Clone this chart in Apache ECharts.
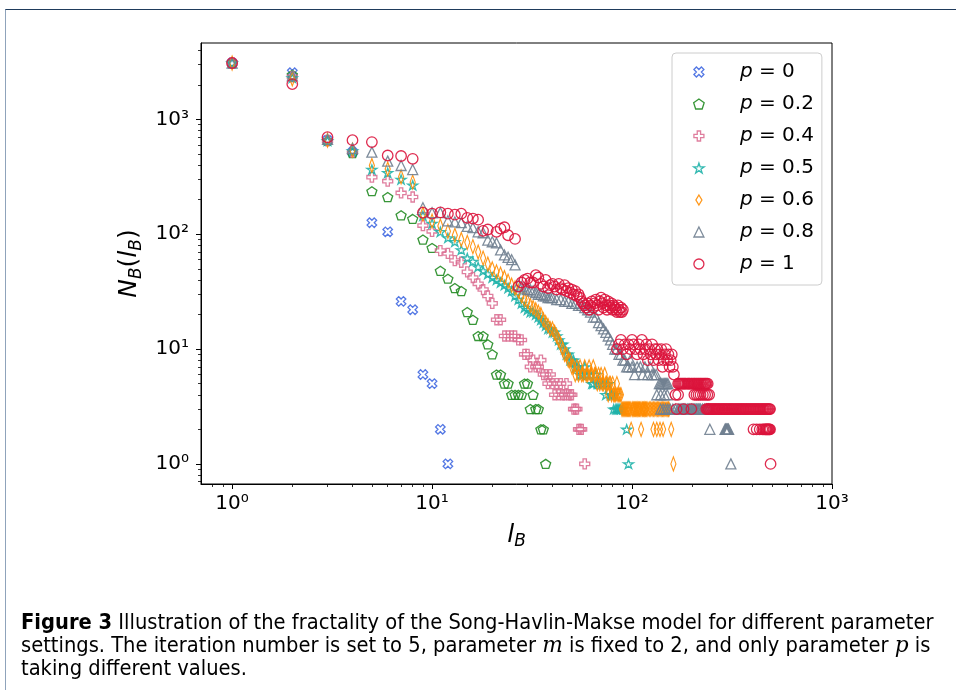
<!DOCTYPE html>
<html lang="en">
<head>
<meta charset="UTF-8">
<title>SHM fractality</title>
<style>
    *{
        padding:0;
        margin:0;
    }
    body{width:956px;height:690px;background:#fff;position:relative;overflow:hidden;}
    #frame{position:absolute;left:5px;top:9px;right:-2px;bottom:-2px;border-top:1px solid #1f3b5c;border-left:1px solid #8fa3bb;}
    #main{position:absolute;left:0;top:0;width:956px;height:690px;}
    #caption{position:absolute;left:21px;top:610px;font-family:"DejaVu Sans Condensed","Liberation Sans Narrow",sans-serif;font-size:21.7px;line-height:23px;white-space:nowrap;color:#000;}
    #caption i{font-family:"DejaVu Serif","Liberation Serif",serif;font-style:italic;}
</style>
<script src="https://cdn.jsdelivr.net/npm/echarts@6.0.0/dist/echarts.min.js"></script>
</head>
<body>
<div id="frame"></div>
<div id="main"></div>
<div id="caption"><b>Figure 3</b> Illustration of the fractality of the Song-Havlin-Makse model for different parameter<br>settings. The iteration number is set to 5, parameter <i>m</i> is fixed to 2, and only parameter <i>p</i> is<br>taking different values.</div>
<script>
    // tick values of both log axes
    var lTicks = [1, 10, 100, 1000];
    var nTicks = [1, 10, 100, 1000];
    var lMinor = [0.8, 0.9, 2, 3, 4, 5, 6, 7, 8, 9, 20, 30, 40, 50, 60, 70, 80, 90, 200, 300, 400, 500, 600, 700, 800, 900];
    var nMinor = [0.7, 0.8, 0.9, 2, 3, 4, 5, 6, 7, 8, 9, 20, 30, 40, 50, 60, 70, 80, 90, 200, 300, 400, 500, 600, 700, 800, 900, 2000, 3000, 4000];

    var names = ['p = 0', 'p = 0.2', 'p = 0.4', 'p = 0.5', 'p = 0.6', 'p = 0.8', 'p = 1'];

    // [l_B, N_B]
    var p00 = [[1,3100],[2,2550],[3,660],[4,520],[5,126],[6,105],[7,26],[8,22],[9,6],[10,5],[11,2],[12,1]];

    var p02 = [[1,3100],[2,2450],[3,650],[4,510],[5,237],[6,211],[7,146],[8,136],[9,90],[10,76],
        [11,48],[12,41],[13,34],[14,32],[15,21],[16,18],[17,13],[18,13],[19,11],[20,9],
        [21,6],[22,6],[23,5],[24,5],[25,4],[26,4],[27,4],[28,4],[29,5],[30,5],
        [31,3],[32,4],[33,3],[34,3],[35,2],[36,2],[37,1]];

    var p04 = [[1,3100],[2,2350],[3,650],[4,520],[5,314],[6,290],[7,229],[8,211],[9,119],[10,106],
        [11,72],[12,68],[13,59],[14,57],[15,47],[16,42],[17,37],[18,33],[19,29],[20,25],
        [21,18],[22,18],[23,13],[24,13],[25,13],[26,13],[27,12],[28,12],[29,9],[30,9],
        [31,7],[32,8],[33,7],[34,7],[35,8],[36,6],[37,6],[38,5],[39,6],[40,5],
        [41,4],[42,5],[43,4],[44,5],[45,4],[46,4],[47,5],[48,4],[49,4],[50,4],
        [51,3],[52,3],[53,3],[54,2],[55,2],[56,2],[58,1]];

    var p05 = [[1,3100],[2,2300],[3,650],[4,530],[5,366],[6,343],[7,300],[8,267],[9,145],[10,124],
        [11,105],[12,93],[13,86],[14,73],[15,62],[16,58],[17,52],[18,48],[19,45],[20,42],
        [21,40],[22,38],[23,36],[24,34],[25,32],[26,29],[27,27],[28,25],[29,23],[30,22],
        [31,21],[32,21],[33,20],[34,19],[35,18],[36,17],[37,16],[38,15],[39,15],[40,14],
        [41,14],[42,13],[43,12],[44,11],[45,11],[46,10],[47,9],[48,9],[49,8],[50,8],
        [51,8],[52,7],[53,7],[54,7],[55,6],[56,6],[57,6],[58,7],[59,6],[60,6],
        [62,6],[63,5],[64,5],[66,6],[67,5],[68,5],[70,5],[71,5],[72,5],[74,4],
        [75,5],[76,5],[78,4],[79,4],[80,4],[81,3],[82,4],[83,3],[84,3],[85,3],
        [86,3],[87,3],[88,3],[90,3],[94,2],[96,1]];

    var p06 = [[1,3100],[2,2250],[3,660],[4,540],[5,397],[6,370],[7,316],[8,284],[9,150],[10,130],
        [11,118],[12,106],[13,98],[14,90],[15,85],[16,78],[17,70],[18,62],[19,55],[20,50],
        [21,47],[22,45],[23,42],[24,39],[25,36],[26,34],[27,32],[28,29],[29,27],[30,26],
        [31,24],[32,23],[33,22],[34,21],[35,20],[36,18],[37,17],[38,16],[39,15],[40,15],
        [41,14],[42,13],[43,12],[44,11],[45,10],[46,9],[47,9],[48,8],[49,8],[50,7],
        [51,7],[52,6],[53,7],[54,6],[55,7],[56,6],[57,6],[58,7],[59,6],[60,6],
        [61,7],[62,6],[63,6],[64,7],[65,6],[66,6],[67,5],[68,6],[69,5],[70,6],
        [71,5],[72,5],[73,6],[74,5],[75,5],[76,4],[77,5],[78,5],[79,4],[80,5],
        [81,4],[82,4],[83,4],[84,5],[85,4],[86,4],[87,4],[88,4],
        [89,3],[90,3],[91,3],[92,3],[93,3],[94,3],[95,3],[96,3],[97,3],[98,3],
        [99,2],[100,3],[101,3],[102,3],[103,3],[104,3],[105,3],[106,3],[107,3],[108,3],
        [109,3],[110,3],[111,2],[112,3],[113,3],[114,3],[115,3],[116,3],[117,3],[118,3],
        [120,3],[122,3],[124,3],[126,3],[128,2],[128,3],[130,3],[132,3],[133,2],[134,3],
        [136,3],[138,2],[138,3],[140,3],[142,3],[143,2],[144,3],[146,3],[148,3],[150,3],
        [152,3],[153,3],[157,2],[161,1]];

    var p08 = [[1,3100],[2,2400],[3,670],[4,560],[5,519],[6,433],[7,397],[8,366],[9,170],[10,154],
        [11,154],[12,131],[13,128],[14,126],[15,117],[16,114],[17,105],[18,103],[19,89],[20,86],
        [21,84],[22,73],[23,66],[24,63],[25,60],[26,54],[27,36],[28,35],[29,34],[30,33],
        [31,33],[32,32],[33,31],[34,30],[35,30],[36,29],[37,29],[38,28],[39,28],[40,28],
        [42,27],[44,27],[46,26],[48,26],[50,25],[52,25],[54,24],[56,24],[58,23],[60,22],
        [62,21],[64,19],[66,19],[68,17],[70,16],[72,15],[74,14],[76,13],[78,12],[80,11],
        [82,10],[84,10],[86,9],[88,9],[90,8],[92,8],[94,7],[96,7],[98,8],[100,7],
        [103,6],[106,7],[110,7],[113,6],[116,7],[120,6],[123,7],[126,6],[129,6],[132,6],
        [133,4],[139,4],[145,4],[150,4],
        [137,5],[139,5],[141,5],[143,5],[145,5],[147,5],[149,5],[151,5],
        [139,3],[143,3],[147,3],[151,3],[155,3],[160,3],[165,3],[170,3],[172,3],[174,3],
        [176,3],[178,3],[180,3],[182,3],[184,3],[186,3],[189,3],[191,3],[193,3],[195,3],
        [198,3],[200,3],[203,3],[205,3],[207,3],[210,3],[212,3],[215,3],[217,3],[220,3],
        [225,3],[230,3],[235,3],[240,3],
        [245,2],[292,2],[294,2],[296,2],[298,2],[300,2],[302,2],[304,2],[312,1]];

    var p10 = [[1,3100],[2,2030],[3,700],[4,660],[5,635],[6,485],[7,480],[8,454],[9,154],[10,151],
        [11,155],[12,151],[13,148],[14,151],[15,139],[16,137],[17,134],[18,107],[19,110],[21,105],
        [22,112],[23,115],[24,98],[26,91],[27,35],[28,38],[29,40],[30,41],[31,38],[32,38],
        [33,44],[34,42],[35,37],[36,35],[37,40],[38,34],[39,36],[40,37],[41,35],[42,33],
        [43,37],[44,34],[45,33],[46,36],[47,32],[48,34],[49,31],[50,33],[51,30],[52,32],
        [53,29],[54,30],[55,28],[56,26],[57,25],[58,24],[59,23],[60,25],[61,22],[62,24],
        [63,26],[64,23],[65,25],[66,27],[67,24],[68,22],[69,26],[70,28],[71,25],[72,23],
        [73,27],[74,24],[75,22],[76,26],[77,24],[78,23],[79,25],[80,22],[81,24],[82,23],
        [83,22],[84,21],[85,24],[86,22],[87,21],[88,23],[89,21],[90,22],
        [84,10],[86,11],[88,12],[90,10],[92,11],[94,9],[96,11],[98,10],[100,12],[102,11],
        [104,10],[106,9],[108,11],[110,10],[112,12],[114,9],[116,10],[118,11],[120,8],[122,10],
        [124,9],[126,11],[128,8],[130,10],[132,9],[134,10],[136,8],[138,9],[140,10],[142,7],
        [144,8],[146,9],[148,10],[150,8],[152,9],[154,7],[156,8],[158,9],[160,7],[162,6],
        [165,4],[167,3],[170,4],[181,3],[198,3],
        [170,5],[172,5],[174,5],[176,5],[178,5],[180,5],[182,5],[184,5],[186,5],[189,5],
        [191,5],[193,5],[195,5],[198,5],[200,5],[203,5],[205,5],[207,5],[210,5],[212,5],
        [215,5],[217,5],[220,5],[222,5],[225,5],[228,5],[231,5],[233,5],[236,5],[239,5],
        [205,4],[210,4],[215,4],[220,4],[226,4],[232,4],[238,4],[243,4],
        [235,3],[238,3],[241,3],[243,3],[246,3],[249,3],[252,3],[255,3],[258,3],[261,3],
        [264,3],[267,3],[270,3],[273,3],[276,3],[280,3],[283,3],[286,3],[290,3],[293,3],
        [297,3],[300,3],[304,3],[307,3],[311,3],[315,3],[318,3],[322,3],[326,3],[330,3],
        [334,3],[338,3],[342,3],[346,3],[350,3],[354,3],[358,3],[362,3],[367,3],[371,3],
        [375,3],[380,3],[384,3],[389,3],[393,3],[398,3],[403,3],[407,3],[412,3],[417,3],
        [422,3],[427,3],[432,3],[437,3],[442,3],[448,3],[453,3],[458,3],[464,3],[469,3],
        [475,3],[480,3],[486,3],[490,3],
        [405,2],[420,2],[435,2],[448,2],[455,2],[462,2],[466,2],[470,2],[474,2],[478,2],
        [482,2],[486,2],[490,2],[493,1]];

    var seriesData = [p00, p02, p04, p05, p06, p08, p10];
    var colors = ['#4169E1', '#228B22', '#DB7093', '#20B2AA', '#FF8C00', '#708090', '#DC143C'];

    var symX = 'path://M42.4,0L56.6,14.1L42.4,28.3L56.6,42.4L42.4,56.6L28.3,42.4L14.1,56.6L0,42.4L14.1,28.3L0,14.1L14.1,0L28.3,14.1Z';
    var symPent = 'path://M50,0L97.6,34.5L79.4,90.5L20.6,90.5L2.4,34.5Z';
    var symPlus = 'path://M2,0L4,0L4,2L6,2L6,4L4,4L4,6L2,6L2,4L0,4L0,2L2,2Z';
    var symStar = 'path://M50,0L61.2,34.5L97.6,34.5L68.2,55.9L79.4,90.5L50,69.1L20.6,90.5L31.8,55.9L2.4,34.5L38.8,34.5Z';
    var symDiam = 'path://M3,0L6,5L3,10L0,5Z';
    var symTri = 'path://M5,0L10,10L0,10Z';
    var symbols = [symX, symPent, symPlus, symStar, symDiam, symTri, 'circle'];
    var sizes = [[9.5, 9.5], [10, 9.5], [10, 10], [10, 9.5], [8.5, 14], [10, 10], 10.5];

    var sup = {0: '\u2070', 1: '\u00b9', 2: '\u00b2', 3: '\u00b3'};
    function powLabel(v) {
        var e = Math.round(Math.log10(v));
        return '10' + sup[e];
    }

    var labelFont = {fontSize: 20, color: '#000', fontFamily: 'DejaVu Sans'};
    var nameRich = {
        i: {fontSize: 25, fontStyle: 'italic', fontFamily: 'DejaVu Sans', color: '#000', lineHeight: 30},
        n: {fontSize: 25, fontFamily: 'DejaVu Sans', color: '#000', lineHeight: 30},
        s: {fontSize: 17, fontStyle: 'italic', fontFamily: 'DejaVu Sans', color: '#000', lineHeight: 16, verticalAlign: 'bottom'}
    };

    var myChart = echarts.init(document.getElementById('main'));

    var series = [];
    for (var i = 0; i < seriesData.length; i++) {
        series.push({
            name: names[i],
            type: 'scatter',
            data: seriesData[i],
            symbol: symbols[i],
            symbolSize: sizes[i],
            symbolKeepAspect: true,
            silent: true,
            itemStyle: {
                color: 'rgba(0,0,0,0)',
                borderColor: colors[i],
                borderWidth: 1.3,
                opacity: 0.9
            },
            emphasis: {disabled: true}
        });
    }

    function minorAxis(min, max, vals, pos) {
        return {
            type: 'log', logBase: 10, min: min, max: max, position: pos,
            axisLine: {show: false},
            axisTick: {show: true, length: 3, customValues: vals, lineStyle: {color: '#000', width: 0.8}},
            axisLabel: {show: false},
            splitLine: {show: false}
        };
    }

    var option = {
        animation: false,
        backgroundColor: 'transparent',
        grid: {
            left: 201, right: 124, top: 43, bottom: 206,
            show: true, borderColor: '#000', borderWidth: 1,
            outerBoundsMode: 'none'
        },
        legend: {
            orient: 'vertical',
            left: 672,
            top: 53,
            padding: [8, 8, 10, 21],
            itemWidth: 22,
            itemHeight: 10,
            itemGap: 10,
            borderColor: '#cccccc',
            borderWidth: 1,
            borderRadius: 4,
            backgroundColor: 'rgba(255,255,255,0.8)',
            itemStyle: {borderWidth: 1.3},
            textStyle: {
                fontSize: 20, color: '#000', fontFamily: 'DejaVu Sans', lineHeight: 22,
                padding: [0, 0, 0, 25],
                rich: {i: {fontSize: 20, fontStyle: 'italic', fontFamily: 'DejaVu Sans', color: '#000', lineHeight: 22}}
            },
            formatter: function (n) { return n.replace('p', '{i|p}'); },
            data: names
        },
        xAxis: [{
            type: 'log',
            logBase: 10,
            min: 0.699,
            max: 1000,
            position: 'bottom',
            axisLine: {show: true, onZero: false, lineStyle: {color: '#000', width: 1}},
            axisTick: {show: true, length: 5, customValues: lTicks, lineStyle: {color: '#000', width: 1}},
            axisLabel: Object.assign({customValues: lTicks, formatter: powLabel, margin: 10}, labelFont),
            splitLine: {show: false},
            name: '{i|l}{s|B}',
            nameLocation: 'middle',
            nameGap: 36,
            nameTextStyle: {rich: nameRich}
        }, minorAxis(0.699, 1000, lMinor, 'bottom')],
        yAxis: [{
            type: 'log',
            logBase: 10,
            min: 0.668,
            max: 4630,
            position: 'left',
            axisLine: {show: true, onZero: false, lineStyle: {color: '#000', width: 1}},
            axisTick: {show: true, length: 5, customValues: nTicks, lineStyle: {color: '#000', width: 1}},
            axisLabel: Object.assign({customValues: nTicks, formatter: powLabel, margin: 12}, labelFont),
            splitLine: {show: false},
            name: '{i|N}{s|B}{n|(}{i|l}{s|B}{n|)}',
            nameLocation: 'middle',
            nameRotate: 90,
            nameGap: 49,
            nameTextStyle: {rich: nameRich}
        }, minorAxis(0.668, 4630, nMinor, 'left')],
        series: series
    };
    myChart.setOption(option);
</script>
</body>
</html>
